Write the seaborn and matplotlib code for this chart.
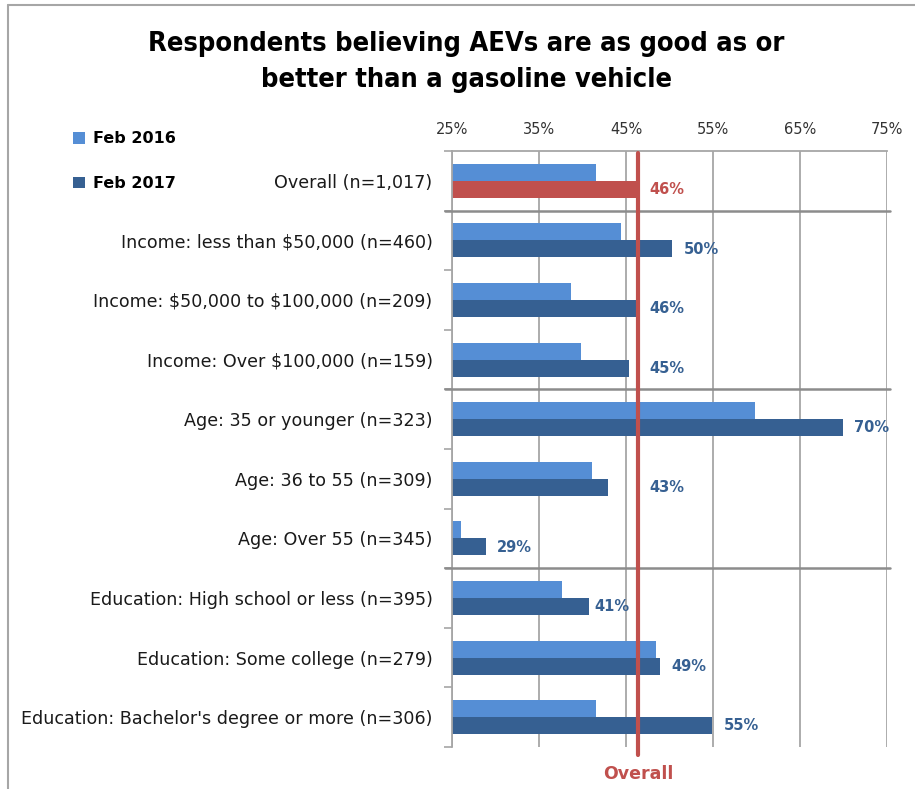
import matplotlib
matplotlib.use("Agg")
import matplotlib.pyplot as plt
import seaborn as sns
import pandas as pd
import numpy as np

categories = [
    "Overall (n=1,017)",
    "Income: less than $50,000 (n=460)",
    "Income: $50,000 to $100,000 (n=209)",
    "Income: Over $100,000 (n=159)",
    "Age: 35 or younger (n=323)",
    "Age: 36 to 55 (n=309)",
    "Age: Over 55 (n=345)",
    "Education: High school or less (n=395)",
    "Education: Some college (n=279)",
    "Education: Bachelor's degree or more (n=306)",
]
feb_2016 = [41.5, 44.4, 38.7, 39.8, 59.8, 41.1, 26.0, 37.6, 48.4, 41.5]
feb_2017 = [46.4, 50.3, 46.3, 45.4, 69.9, 42.9, 28.9, 40.8, 48.9, 54.9]
series = ["Feb 2016", "Feb 2017"]
x_ticks = [25, 35, 45, 55, 65, 75]
overall_value = 46.4
group_breaks = [0.5, 3.5, 6.5]

light_blue = "#558ED5"
dark_blue = "#366092"
red = "#C0504D"
grid_gray = "#A6A6A6"

df = pd.DataFrame({
    "category": categories * 2,
    "value": feb_2016 + feb_2017,
    "series": [series[0]] * len(categories) + [series[1]] * len(categories),
})

sns.set_theme(style="white")
plt.rcParams["font.family"] = ["DejaVu Sans"]
plt.rcParams["text.parse_math"] = False

fig = plt.figure(figsize=(9.15, 7.89), dpi=100)
ax = fig.add_axes([452 / 915, 1 - 747 / 789, (887 - 452) / 915, (747 - 151) / 789])

sns.barplot(data=df, y="category", x="value", hue="series", order=categories,
            hue_order=series, palette=[light_blue, dark_blue], orient="h",
            width=0.57, saturation=1, ax=ax, legend=True, edgecolor="none")

# recolor the overall Feb 2017 bar red
bars17 = ax.containers[1]
bars17[0].set_facecolor(red)

ax.set_xlim(25, 75)
ax.set_ylim(len(categories) - 0.5, -0.5)
ax.set_xticks(x_ticks)
ax.set_xticklabels([f"{t}%" for t in x_ticks])
ax.xaxis.tick_top()
ax.tick_params(axis="x", length=0, pad=10, labelsize=10.5, colors="#333333")
ax.set_xlabel("")
ax.set_ylabel("")
ax.grid(axis="x", color=grid_gray, lw=1.3)
ax.set_axisbelow(True)

ax.set_yticks(range(len(categories)))
ax.set_yticklabels(categories)
ax.set_yticks(np.arange(-0.5, len(categories), 1), minor=True)
ax.tick_params(axis="y", which="major", length=0, pad=14, labelsize=12.6, colors="#1a1a1a")
ax.tick_params(axis="y", which="minor", length=6, width=1.2, color=grid_gray, left=True)

for s in ["right", "bottom"]:
    ax.spines[s].set_visible(False)
for s in ["left", "top"]:
    ax.spines[s].set_color(grid_gray)
    ax.spines[s].set_linewidth(1.3)

# group separators
for b in group_breaks:
    ax.plot([24.2, 75.4], [b, b], color="#8C8C8C", lw=1.8, clip_on=False, zorder=3)

# overall line
ax.plot([overall_value, overall_value], [-0.47, len(categories) - 0.5 + 0.14],
        color=red, lw=3, clip_on=False, zorder=5)
ax.text(overall_value, len(categories) - 0.5 + 0.45, "Overall", color=red,
        fontsize=12.5, fontweight="bold", ha="center", va="center", clip_on=False)

# value labels for Feb 2017
label_w = 4.2
for i, v in enumerate(feb_2017):
    x = v + 1.3
    if v <= overall_value + 0.5 and x + label_w > overall_value - 0.3:
        x = v + 0.6
        if x + label_w > overall_value - 0.3:
            x = max(v + 1.3, overall_value + 1.3)
    col = red if i == 0 else dark_blue
    ax.text(x, i + 0.145, f"{round(v):d}%", color=col, fontsize=10.5,
            fontweight="bold", ha="left", va="center")

leg = ax.legend(loc="upper left", bbox_to_anchor=(59 / 915, 1 - 117 / 789),
                bbox_transform=fig.transFigure, frameon=False,
                handlelength=0.75, handleheight=0.75, handletextpad=0.45,
                labelspacing=1.85, prop={"weight": "bold", "size": 11.5})
for t in leg.get_texts():
    t.set_color("black")

title_font = dict(ha="center", va="center", fontsize=19.5, fontweight="bold",
                  family=["DejaVu Sans"], fontstretch="condensed", color="black")
fig.text(466 / 915, 1 - 44 / 789, "Respondents believing AEVs are as good as or", **title_font)
fig.text(466 / 915, 1 - 80 / 789, "better than a gasoline vehicle", **title_font)

# outer frame (top and left edges visible)
fig.add_artist(plt.Line2D([8 / 915, 1], [1 - 5 / 789, 1 - 5 / 789], transform=fig.transFigure,
                          color="#A6A6A6", lw=1.5))
fig.add_artist(plt.Line2D([8 / 915, 8 / 915], [0, 1 - 5 / 789], transform=fig.transFigure,
                          color="#A6A6A6", lw=1.5))

fig.savefig("out.png", dpi=100)
